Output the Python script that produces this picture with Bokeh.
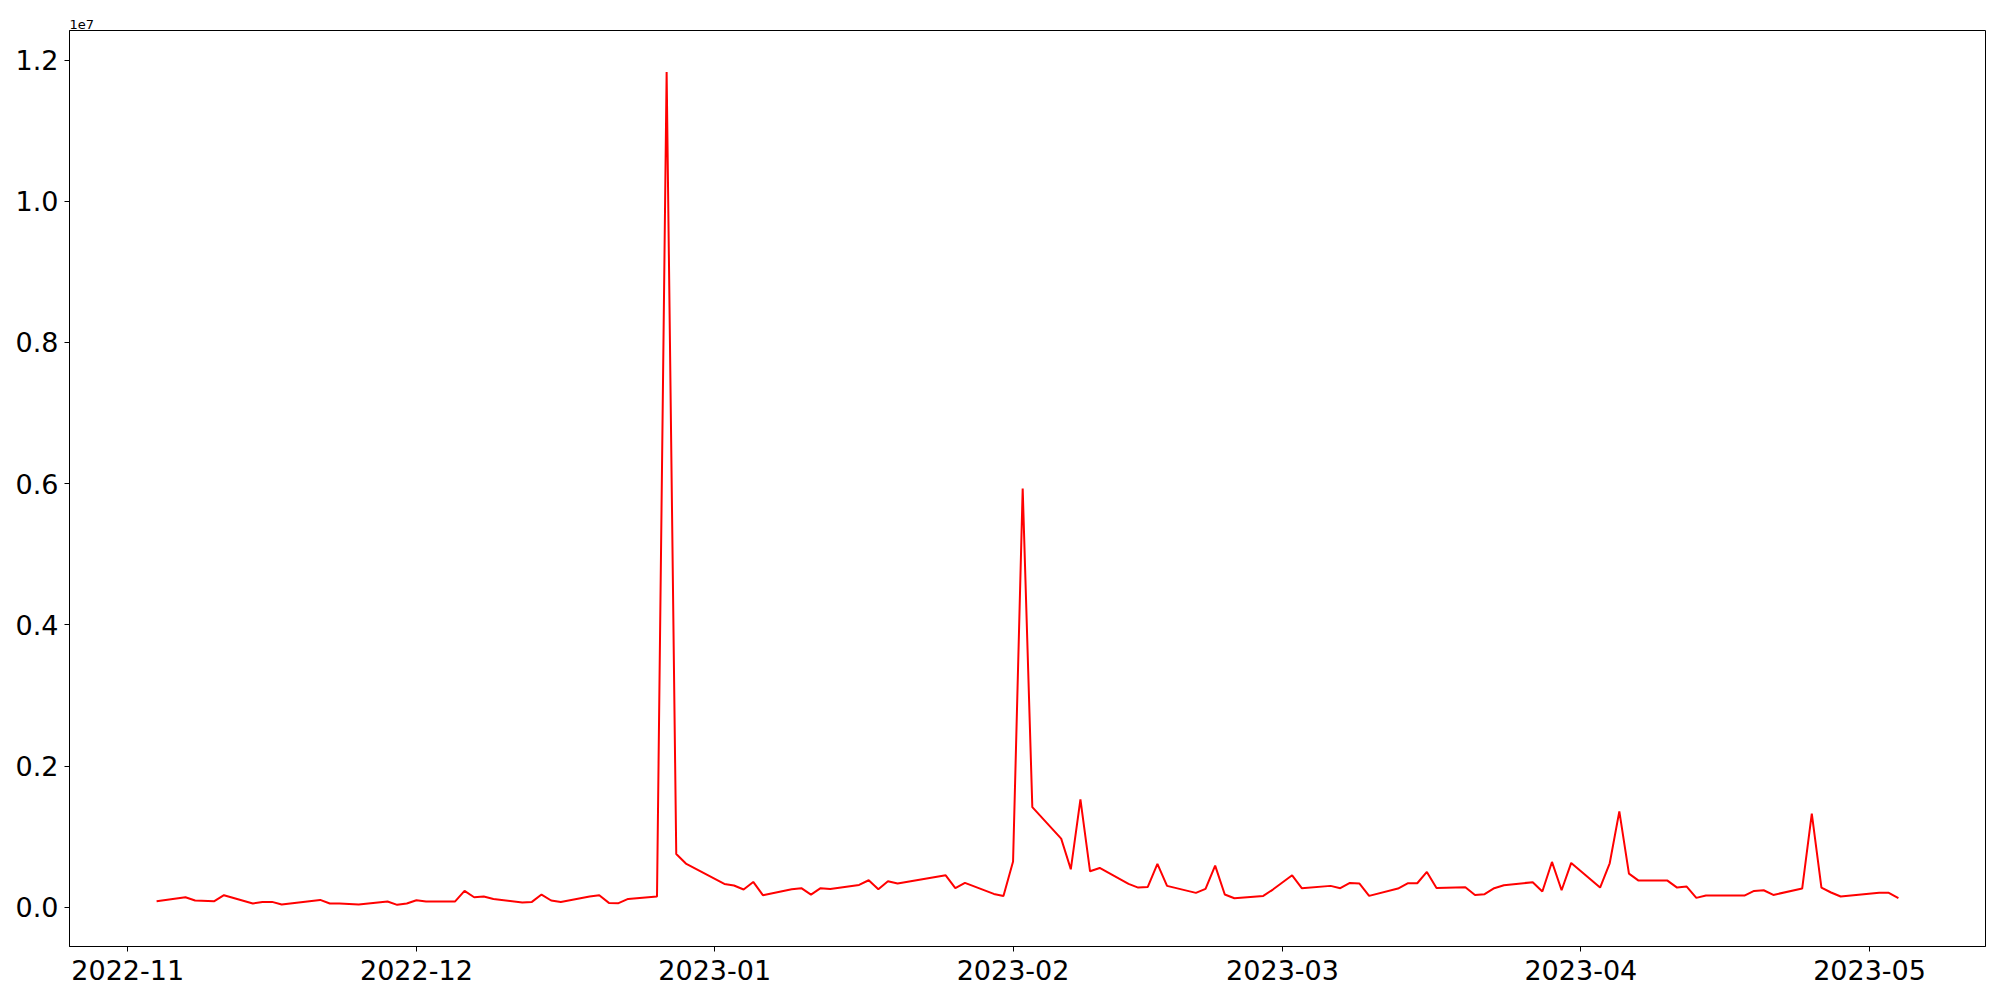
import pandas as pd
from bokeh.plotting import figure
from bokeh.models import Range1d, FixedTicker, DatetimeTickFormatter, CustomJSTickFormatter
from bokeh.embed import file_html
from bokeh.resources import INLINE

dates = [
    "2022-11-04", "2022-11-07", "2022-11-08", "2022-11-10", "2022-11-11", "2022-11-14",
    "2022-11-15", "2022-11-16", "2022-11-17", "2022-11-21", "2022-11-22", "2022-11-23",
    "2022-11-25", "2022-11-28", "2022-11-29", "2022-11-30", "2022-12-01", "2022-12-02",
    "2022-12-05", "2022-12-06", "2022-12-07", "2022-12-08", "2022-12-09", "2022-12-12",
    "2022-12-13", "2022-12-14", "2022-12-15", "2022-12-16", "2022-12-19", "2022-12-20",
    "2022-12-21", "2022-12-22", "2022-12-23", "2022-12-26", "2022-12-27", "2022-12-28",
    "2022-12-29", "2023-01-02", "2023-01-03", "2023-01-04", "2023-01-05", "2023-01-06",
    "2023-01-09", "2023-01-10", "2023-01-11", "2023-01-12", "2023-01-13", "2023-01-16",
    "2023-01-17", "2023-01-18", "2023-01-19", "2023-01-20", "2023-01-25", "2023-01-26",
    "2023-01-27", "2023-01-30", "2023-01-31", "2023-02-01", "2023-02-02", "2023-02-03",
    "2023-02-06", "2023-02-07", "2023-02-08", "2023-02-09", "2023-02-10", "2023-02-13",
    "2023-02-14", "2023-02-15", "2023-02-16", "2023-02-17", "2023-02-20", "2023-02-21",
    "2023-02-22", "2023-02-23", "2023-02-24", "2023-02-27", "2023-02-28", "2023-03-02",
    "2023-03-03", "2023-03-06", "2023-03-07", "2023-03-08", "2023-03-09", "2023-03-10",
    "2023-03-13", "2023-03-14", "2023-03-15", "2023-03-16", "2023-03-17", "2023-03-20",
    "2023-03-21", "2023-03-22", "2023-03-23", "2023-03-24", "2023-03-27", "2023-03-28",
    "2023-03-29", "2023-03-30", "2023-03-31", "2023-04-03", "2023-04-04", "2023-04-05",
    "2023-04-06", "2023-04-07", "2023-04-10", "2023-04-11", "2023-04-12", "2023-04-13",
    "2023-04-14", "2023-04-18", "2023-04-19", "2023-04-20", "2023-04-21", "2023-04-24",
    "2023-04-25", "2023-04-26", "2023-04-27", "2023-04-28", "2023-05-02", "2023-05-03",
    "2023-05-04",
]

values = [
    85000, 141000, 95000, 85000, 170000, 52000,
    75000, 75000, 38000, 103000, 52000, 52000,
    38000, 80000, 33000, 52000, 99000, 80000,
    80000, 231000, 141000, 151000, 117000, 66000,
    75000, 179000, 95000, 75000, 151000, 170000,
    61000, 57000, 117000, 151000, 11830000, 754000,
    618000, 330000, 307000, 250000, 358000, 170000,
    255000, 269000, 179000, 269000, 259000, 316000,
    382000, 255000, 368000, 335000, 452000, 269000,
    344000, 188000, 160000, 646000, 5930000, 1418000,
    971000, 537000, 1527000, 509000, 556000, 330000,
    278000, 287000, 613000, 302000, 203000, 259000,
    589000, 179000, 127000, 160000, 250000, 452000,
    269000, 302000, 269000, 344000, 335000, 160000,
    264000, 339000, 339000, 499000, 273000, 283000,
    174000, 184000, 269000, 311000, 354000, 222000,
    641000, 240000, 627000, 278000, 622000, 1357000,
    476000, 377000, 377000, 278000, 292000, 132000,
    165000, 165000, 231000, 240000, 174000, 264000,
    1325000, 278000, 208000, 151000, 203000, 203000,
    127000,
]

month_ticks = ["2022-11-01", "2022-12-01", "2023-01-01", "2023-02-01",
               "2023-03-01", "2023-04-01", "2023-05-01"]
y_ticks = [0, 2000000, 4000000, 6000000, 8000000, 10000000, 12000000]
offset_label = "1e7"

x = pd.to_datetime(dates)
xmin, xmax = x.min(), x.max()
xspan = xmax - xmin
vmin, vmax = min(values), max(values)
vspan = vmax - vmin

p = figure(
    width=1992, height=992,
    x_axis_type="datetime",
    x_range=Range1d(xmin - xspan * 0.05, xmax + xspan * 0.05),
    y_range=Range1d(vmin - 0.05 * vspan, vmax + 0.05 * vspan),
    output_backend="svg", toolbar_location=None,
    min_border_left=69, min_border_right=7, min_border_top=30, min_border_bottom=46,
    title=offset_label,
)
p.background_fill_color = "white"
p.border_fill_color = "white"
p.outline_line_color = "black"
p.outline_line_width = 1
p.outline_line_alpha = 1.0
p.xgrid.visible = False
p.ygrid.visible = False

p.title.text_font = "DejaVu Sans"
p.title.text_font_size = "13px"
p.title.text_font_style = "normal"
p.title.align = "left"
p.title.standoff = 4
p.title.text_color = "black"

month_ms = [pd.Timestamp(m).value // 10**6 for m in month_ticks]
p.xaxis.ticker = FixedTicker(ticks=month_ms)
p.xaxis.formatter = DatetimeTickFormatter(
    milliseconds="%Y-%m", seconds="%Y-%m", minsec="%Y-%m", minutes="%Y-%m",
    hourmin="%Y-%m", hours="%Y-%m", days="%Y-%m", months="%Y-%m", years="%Y-%m")
p.yaxis.ticker = FixedTicker(ticks=y_ticks)
p.yaxis.formatter = CustomJSTickFormatter(code="return (tick / 1e7).toFixed(1);")

for ax in (p.xaxis, p.yaxis):
    ax.axis_line_color = "black"
    ax.axis_line_width = 1
    ax.major_tick_line_color = "black"
    ax.major_tick_line_width = 1
    ax.major_tick_out = 5
    ax.major_tick_in = 0
    ax.minor_tick_out = 0
    ax.minor_tick_in = 0
    ax.major_label_text_font = "DejaVu Sans"
    ax.major_label_text_font_size = "27px"
    ax.major_label_text_color = "black"

p.xaxis.major_label_standoff = 8
p.yaxis.major_label_standoff = 6

p.line(x, values, line_color="red", line_width=2)

open("out.html", "w").write(file_html(p, INLINE))
